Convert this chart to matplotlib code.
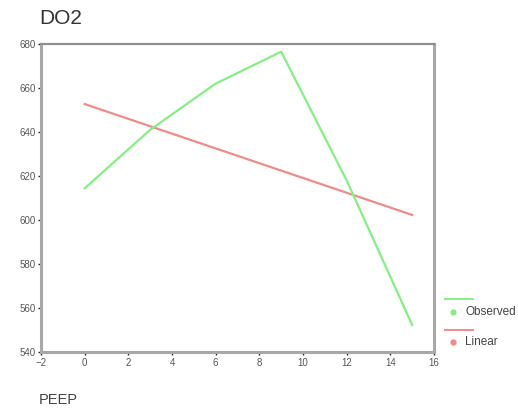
import matplotlib
matplotlib.use("Agg")
import matplotlib.pyplot as plt
from matplotlib.lines import Line2D

plt.rcParams['font.family'] = ['Liberation Sans', 'DejaVu Sans']

# observed DO2 vs PEEP
peep = [0, 3, 6, 9, 12, 15]
do2_observed = [614.4, 641, 662, 676.5, 618, 552.3]
# linear fit, read at both ends
linear_x = [0, 15]
linear_y = [652.7, 602.3]

x_ticks = list(range(-2, 17, 2))
y_ticks = list(range(540, 681, 20))

green = '#84f084'
red = '#f28a8a'
frame = '#a8a8a8'


def main():
    fig = plt.figure(figsize=(5.18, 4.12), dpi=100)
    ax = fig.add_axes([41/518, 1-352/412, (434-41)/518, (352-44)/412])

    ax.plot(peep, do2_observed, color=green, lw=1.6, zorder=3)
    ax.plot(linear_x, linear_y, color=red, lw=1.6, zorder=2)

    ax.set_xlim(-2, 16)
    ax.set_ylim(540, 680)
    ax.set_xticks(x_ticks)
    ax.set_yticks(y_ticks)
    ax.tick_params(labelsize=7, labelcolor='#555555', length=2.5, width=1,
                   color='#222222', pad=1.5)

    for side in ['left', 'right', 'bottom']:
        ax.spines[side].set_color(frame)
        ax.spines[side].set_linewidth(2.2)
    ax.spines['top'].set_color('#909090')
    ax.spines['top'].set_linewidth(1.6)

    fig.text(39/518, 1-18/412, "DO2", fontsize=15, color='#333333', va='center', ha='left')
    fig.text(39/518, 1-400/412, "PEEP", fontsize=10.5, color='#444444', va='center', ha='left')

    # legend drawn by hand (line above, dot beside label)
    entries = [("Observed", green, 299, 312), ("Linear", red, 330, 342)]
    for label, col, ly, ty in entries:
        fig.add_artist(Line2D([445/518, 473/518], [1-ly/412, 1-ly/412], color=col, lw=1.4))
        fig.add_artist(Line2D([453/518], [1-ty/412], marker='o', ms=3.5, color=col, lw=0))
        fig.text(465/518, 1-ty/412, label, fontsize=8.5, color='#444444', va='center', ha='left')

    fig.savefig("out.png", dpi=100)


if __name__ == "__main__":
    main()
